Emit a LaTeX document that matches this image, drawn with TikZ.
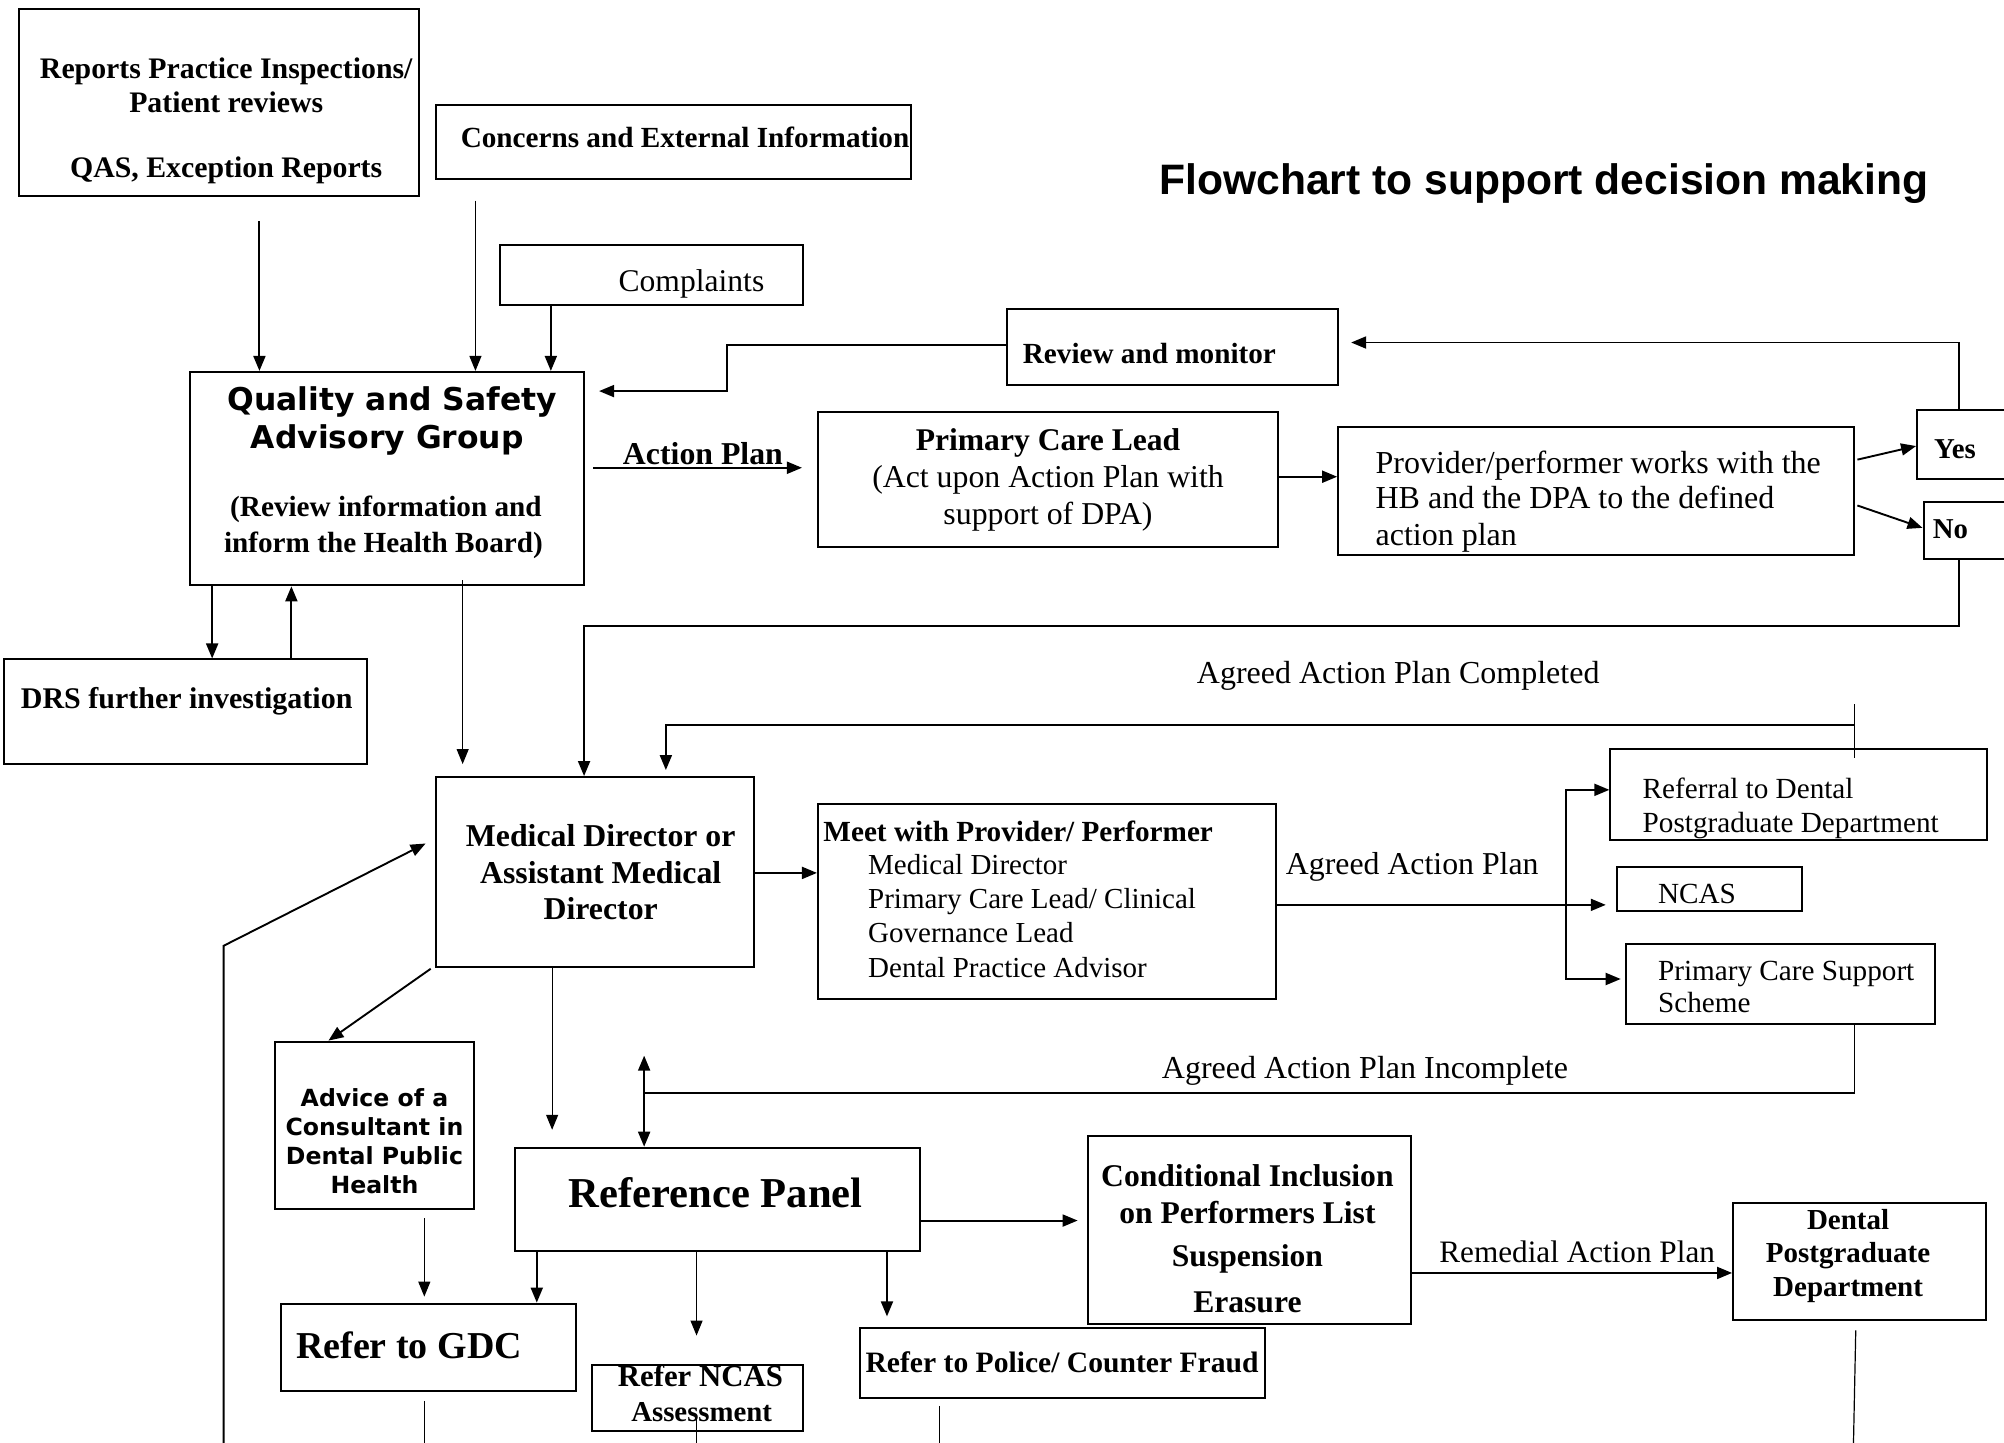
\documentclass[tikz,border=0pt]{standalone}
\usepackage{fontspec}
\setmainfont{Liberation Serif}
\newfontfamily\vfont{DejaVu Sans}
\newfontfamily\afont{Liberation Sans}
\usetikzlibrary{arrows.meta,fit}
\newcommand\bb[1]{\fontsize{#1}{#1}\selectfont\bfseries}
\newcommand\rr[1]{\fontsize{#1}{#1}\selectfont}
\begin{document}
\begin{tikzpicture}[x=0.639pt,y=-0.639pt,
  box/.style={draw, line width=1pt, inner sep=0pt},
  arr/.style={line width=0.95pt, -{Triangle[length=7.5pt,width=6pt]}},
  dblarr/.style={line width=0.95pt, {Triangle[length=7.5pt,width=6pt]}-{Triangle[length=7.5pt,width=6pt]}},
  ln/.style={line width=0.95pt},
  thn/.style={line width=0.6pt},
  tx/.style={inner sep=0pt, anchor=mid, yshift=-2.9pt},
  tw/.style={inner sep=0pt, anchor=mid west, yshift=-2.9pt}]
\useasboundingbox (0,0) rectangle (1568,1129);
\clip (0,0) rectangle (1568,1129);

% boxes
\node[box, fit={(15,7) (328,153)}] (rep) {};
\node[box, fit={(341,82) (713,140)}] (con) {};
\node[box, fit={(391,192) (628,239)}] (cmp) {};
\node[box, fit={(788,242) (1047,301)}] (rev) {};
\node[box, fit={(149,291) (457,458)}] (qsag) {};
\node[box, fit={(640,322) (1000,428)}] (pcl) {};
\node[box, fit={(1047,334) (1451,434)}] (prov) {};
\node[box, fit={(1500,321) (1600,375)}] (yes) {};
\node[box, fit={(1505,393) (1600,437)}] (no) {};
\node[box, fit={(3,516) (287,598)}] (drs) {};
\node[box, fit={(341,608) (590,757)}] (md) {};
\node[box, fit={(640,629) (998,782)}] (meet) {};
\node[box, fit={(1260,586) (1555,657)}] (refd) {};
\node[box, fit={(1265,678) (1410,713)}] (ncas) {};
\node[box, fit={(1272,739) (1514,801)}] (pcss) {};
\node[box, fit={(215,815) (371,946)}] (adv) {};
\node[box, fit={(403,898) (720,979)}] (rp) {};
\node[box, fit={(851,889) (1104,1036)}] (cond) {};
\node[box, fit={(1356,941) (1554,1033)}] (dpd) {};
\node[box, fit={(220,1020) (451,1088)}] (gdc) {};
\node[box, fit={(463,1068) (628,1120)}] (rncas) {};
\node[box, fit={(673,1039) (990,1094)}] (pol) {};

% free ends
\coordinate (a0) at (203,173);
\coordinate (b0) at (372,157);
\coordinate (m1) at (1451,551);
\coordinate (m2) at (1451,593);
\coordinate (s0) at (175,1140);
\coordinate (s1) at (333,660);
\coordinate (q0) at (337,758);
\coordinate (l0) at (362,454);
\coordinate (r1) at (432,884);
\coordinate (v1e) at (545,1045);
\coordinate (w1e) at (694,1030);
\coordinate (t0) at (332,953);

% connectors
\draw[arr] (a0) -- (a0 |- qsag.north);
\draw[arr, thn] (b0) -- (b0 |- qsag.north);
\draw[arr] (cmp.south -| 431,0) -- (431,0 |- qsag.north);
\draw[arr, shorten >=7pt] (rev.west |- 0,270) -- (569,270) -- (569,306) -- (qsag.east |- 0,306);
\draw[arr, shorten <=4pt, shorten >=7.5pt] (qsag.east |- 0,366) -- (pcl.west |- 0,366);
\draw[arr] (pcl.east |- 0,373) -- (prov.west |- 0,373);
\draw[arr, shorten <=1pt] (prov.east |- 0,360) -- (yes.west |- 0,349);
\draw[arr, shorten <=1pt] (prov.east |- 0,395) -- (no.west |- 0,413);
\draw[arr, shorten >=6pt] (yes.north -| 1533,0) -- (1533,268) -- (rev.east |- 0,268);
\draw[arr] (no.south -| 1533,0) -- (1533,490) -- (457,490) -- (457,0 |- md.north);
\draw[arr] (166,0 |- qsag.south) -- (166,0 |- drs.north);
\draw[arr] (228,0 |- drs.north) -- (228,0 |- qsag.south);
\draw[arr, thn, shorten >=6pt] (l0) -- (l0 |- md.north);
\draw[ln] (m1) -- (m2);
\draw[arr, shorten >=3pt] (1451,567) -- (521,567) -- (521,0 |- md.north);
\draw[arr] (md.east |- 0,683) -- (meet.west |- 0,683);
\draw[arr, shorten >=5pt] (meet.east |- 0,708) -- (ncas.west |- 0,708);
\draw[arr] (1225,708) -- (1225,618) -- (refd.west |- 0,618);
\draw[arr, shorten >=2pt] (1225,708) -- (1225,766) -- (pcss.west |- 0,766);
\draw[ln] (pcss.south -| 1451,0) -- (1451,855) -- (504,855);
\draw[dblarr] (504,826) -- (504,0 |- rp.north);
\draw[arr] (q0) -- (257,0 |- adv.north);
\draw[arr, thn] (md.south -| r1) -- (r1);
\draw[arr] (s0) -- (175,740) -- (s1);
\draw[arr, thn, shorten >=3pt] (t0) -- (t0 |- gdc.north);
\draw[arr] (420,0 |- rp.south) -- (420,0 |- gdc.north);
\draw[arr, thn] (rp.south -| v1e) -- (v1e);
\draw[arr] (rp.south -| w1e) -- (w1e);
\draw[arr, shorten >=4.5pt] (rp.east |- 0,955) -- (cond.west |- 0,955);
\draw[arr] (cond.east |- 0,996) -- (dpd.west |- 0,996);
\draw[thn] (332,1096) -- (332,1140);
\draw[thn] (545,1108) -- (545,1140);
\draw[thn] (735,1100) -- (735,1140);
\draw[thn] (1452,1041) -- (1450,1140);

% texts
\node[tx, font=\bb{14.9}] (rep1) at (177,53) {Reports Practice Inspections/};
\node[tx, font=\bb{14.9}] (rep2) at (177,80) {Patient reviews};
\node[tx, font=\bb{14.9}] (rep3) at (177,131) {QAS, Exception Reports};
\node[tx, font=\bb{14.6}] (con1) at (536,107) {Concerns and External Information};
\node[tx, font=\afont\bb{21.3}] (title) at (1208,144) {Flowchart to support decision making};
\node[tx, font=\rr{15.8}] (cmp1) at (541,220) {Complaints};
\node[tw, font=\bb{14.6}] (rev1) at (800,276) {Review and monitor};
\node[tx, font=\vfont\bb{15.7}] (q1) at (307,313) {Quality and Safety};
\node[tx, font=\vfont\bb{15.7}] (q2) at (303,343) {Advisory Group};
\node[tx, font=\bb{14.6}] (q3) at (302,396) {(Review information and};
\node[tx, font=\bb{14.6}] (q4) at (300,424) {inform the Health Board)};
\node[tx, font=\bb{15.9}] (ap) at (550,355) {Action Plan};
\node[tx, font=\bb{15.8}] (p1) at (820,344) {Primary Care Lead};
\node[tx, font=\rr{15.9}] (p2) at (820,373) {(Act upon Action Plan with};
\node[tx, font=\rr{15.9}] (p3) at (820,402) {support of DPA)};
\node[tw, font=\rr{16}] (v1) at (1076,362) {Provider/performer works with the};
\node[tw, font=\rr{16}] (v2) at (1076,390) {HB and the DPA to the defined};
\node[tw, font=\rr{16}] (v3) at (1076,419) {action plan};
\node[tw, font=\bb{14.4}] (y1) at (1513,351) {Yes};
\node[tw, font=\bb{14.4}] (n1) at (1512,413) {No};
\node[tw, font=\bb{15}] (d1) at (16,546) {DRS further investigation};
\node[tx, font=\bb{15.9}] (md1) at (470,654) {Medical Director or};
\node[tx, font=\bb{15.9}] (md2) at (470,683) {Assistant Medical};
\node[tx, font=\bb{15.9}] (md3) at (470,711) {Director};
\node[tx, font=\rr{16}] (l1) at (1094,527) {Agreed Action Plan Completed};
\node[tw, font=\bb{14.6}] (mt1) at (644,650) {Meet with Provider/ Performer};
\node[tw, font=\rr{14.5}] (mt2) at (679,676) {Medical Director};
\node[tw, font=\rr{14.5}] (mt3) at (679,703) {Primary Care Lead/ Clinical};
\node[tw, font=\rr{14.5}] (mt4) at (679,729) {Governance Lead};
\node[tw, font=\rr{14.5}] (mt5) at (679,757) {Dental Practice Advisor};
\node[tx, font=\rr{15.9}] (l2) at (1105,676) {Agreed Action Plan};
\node[tw, font=\rr{14.6}] (rf1) at (1285,617) {Referral to Dental};
\node[tw, font=\rr{14.6}] (rf2) at (1285,643) {Postgraduate Department};
\node[tw, font=\rr{14.6}] (nc1) at (1297,699) {NCAS};
\node[tw, font=\rr{14.6}] (ps1) at (1297,759) {Primary Care Support};
\node[tw, font=\rr{14.6}] (ps2) at (1297,784) {Scheme};
\node[tx, font=\rr{16}] (l3) at (1068,836) {Agreed Action Plan Incomplete};
\node[tx, font=\vfont\bb{11.8}] (a1) at (293,858) {Advice of a};
\node[tx, font=\vfont\bb{11.8}] (a2) at (293,880) {Consultant in};
\node[tx, font=\vfont\bb{11.8}] (a3) at (293,903) {Dental Public};
\node[tx, font=\vfont\bb{11.8}] (a4) at (293,926) {Health};
\node[tx, font=\bb{21.3}] (rp1) at (560,937) {Reference Panel};
\node[tx, font=\bb{15.8}] (c1) at (976,920) {Conditional Inclusion};
\node[tx, font=\bb{15.8}] (c2) at (976,949) {on Performers List};
\node[tx, font=\bb{15.8}] (c3) at (976,983) {Suspension};
\node[tx, font=\bb{15.8}] (c4) at (976,1019) {Erasure};
\node[tx, font=\rr{15.6}] (l4) at (1234,980) {Remedial Action Plan};
\node[tx, font=\bb{14.5}] (dp1) at (1446,954) {Dental};
\node[tx, font=\bb{14.5}] (dp2) at (1446,980) {Postgraduate};
\node[tx, font=\bb{14.5}] (dp3) at (1446,1006) {Department};
\node[tx, font=\bb{19}] (g1) at (320,1055) {Refer to GDC};
\node[tx, font=\bb{15.4}] (rn1) at (548,1077) {Refer NCAS};
\node[tx, font=\bb{14.4}] (rn2) at (549,1104) {Assessment};
\node[tx, font=\bb{14.8}] (po1) at (831,1066) {Refer to Police/ Counter Fraud};
\end{tikzpicture}
\end{document}
